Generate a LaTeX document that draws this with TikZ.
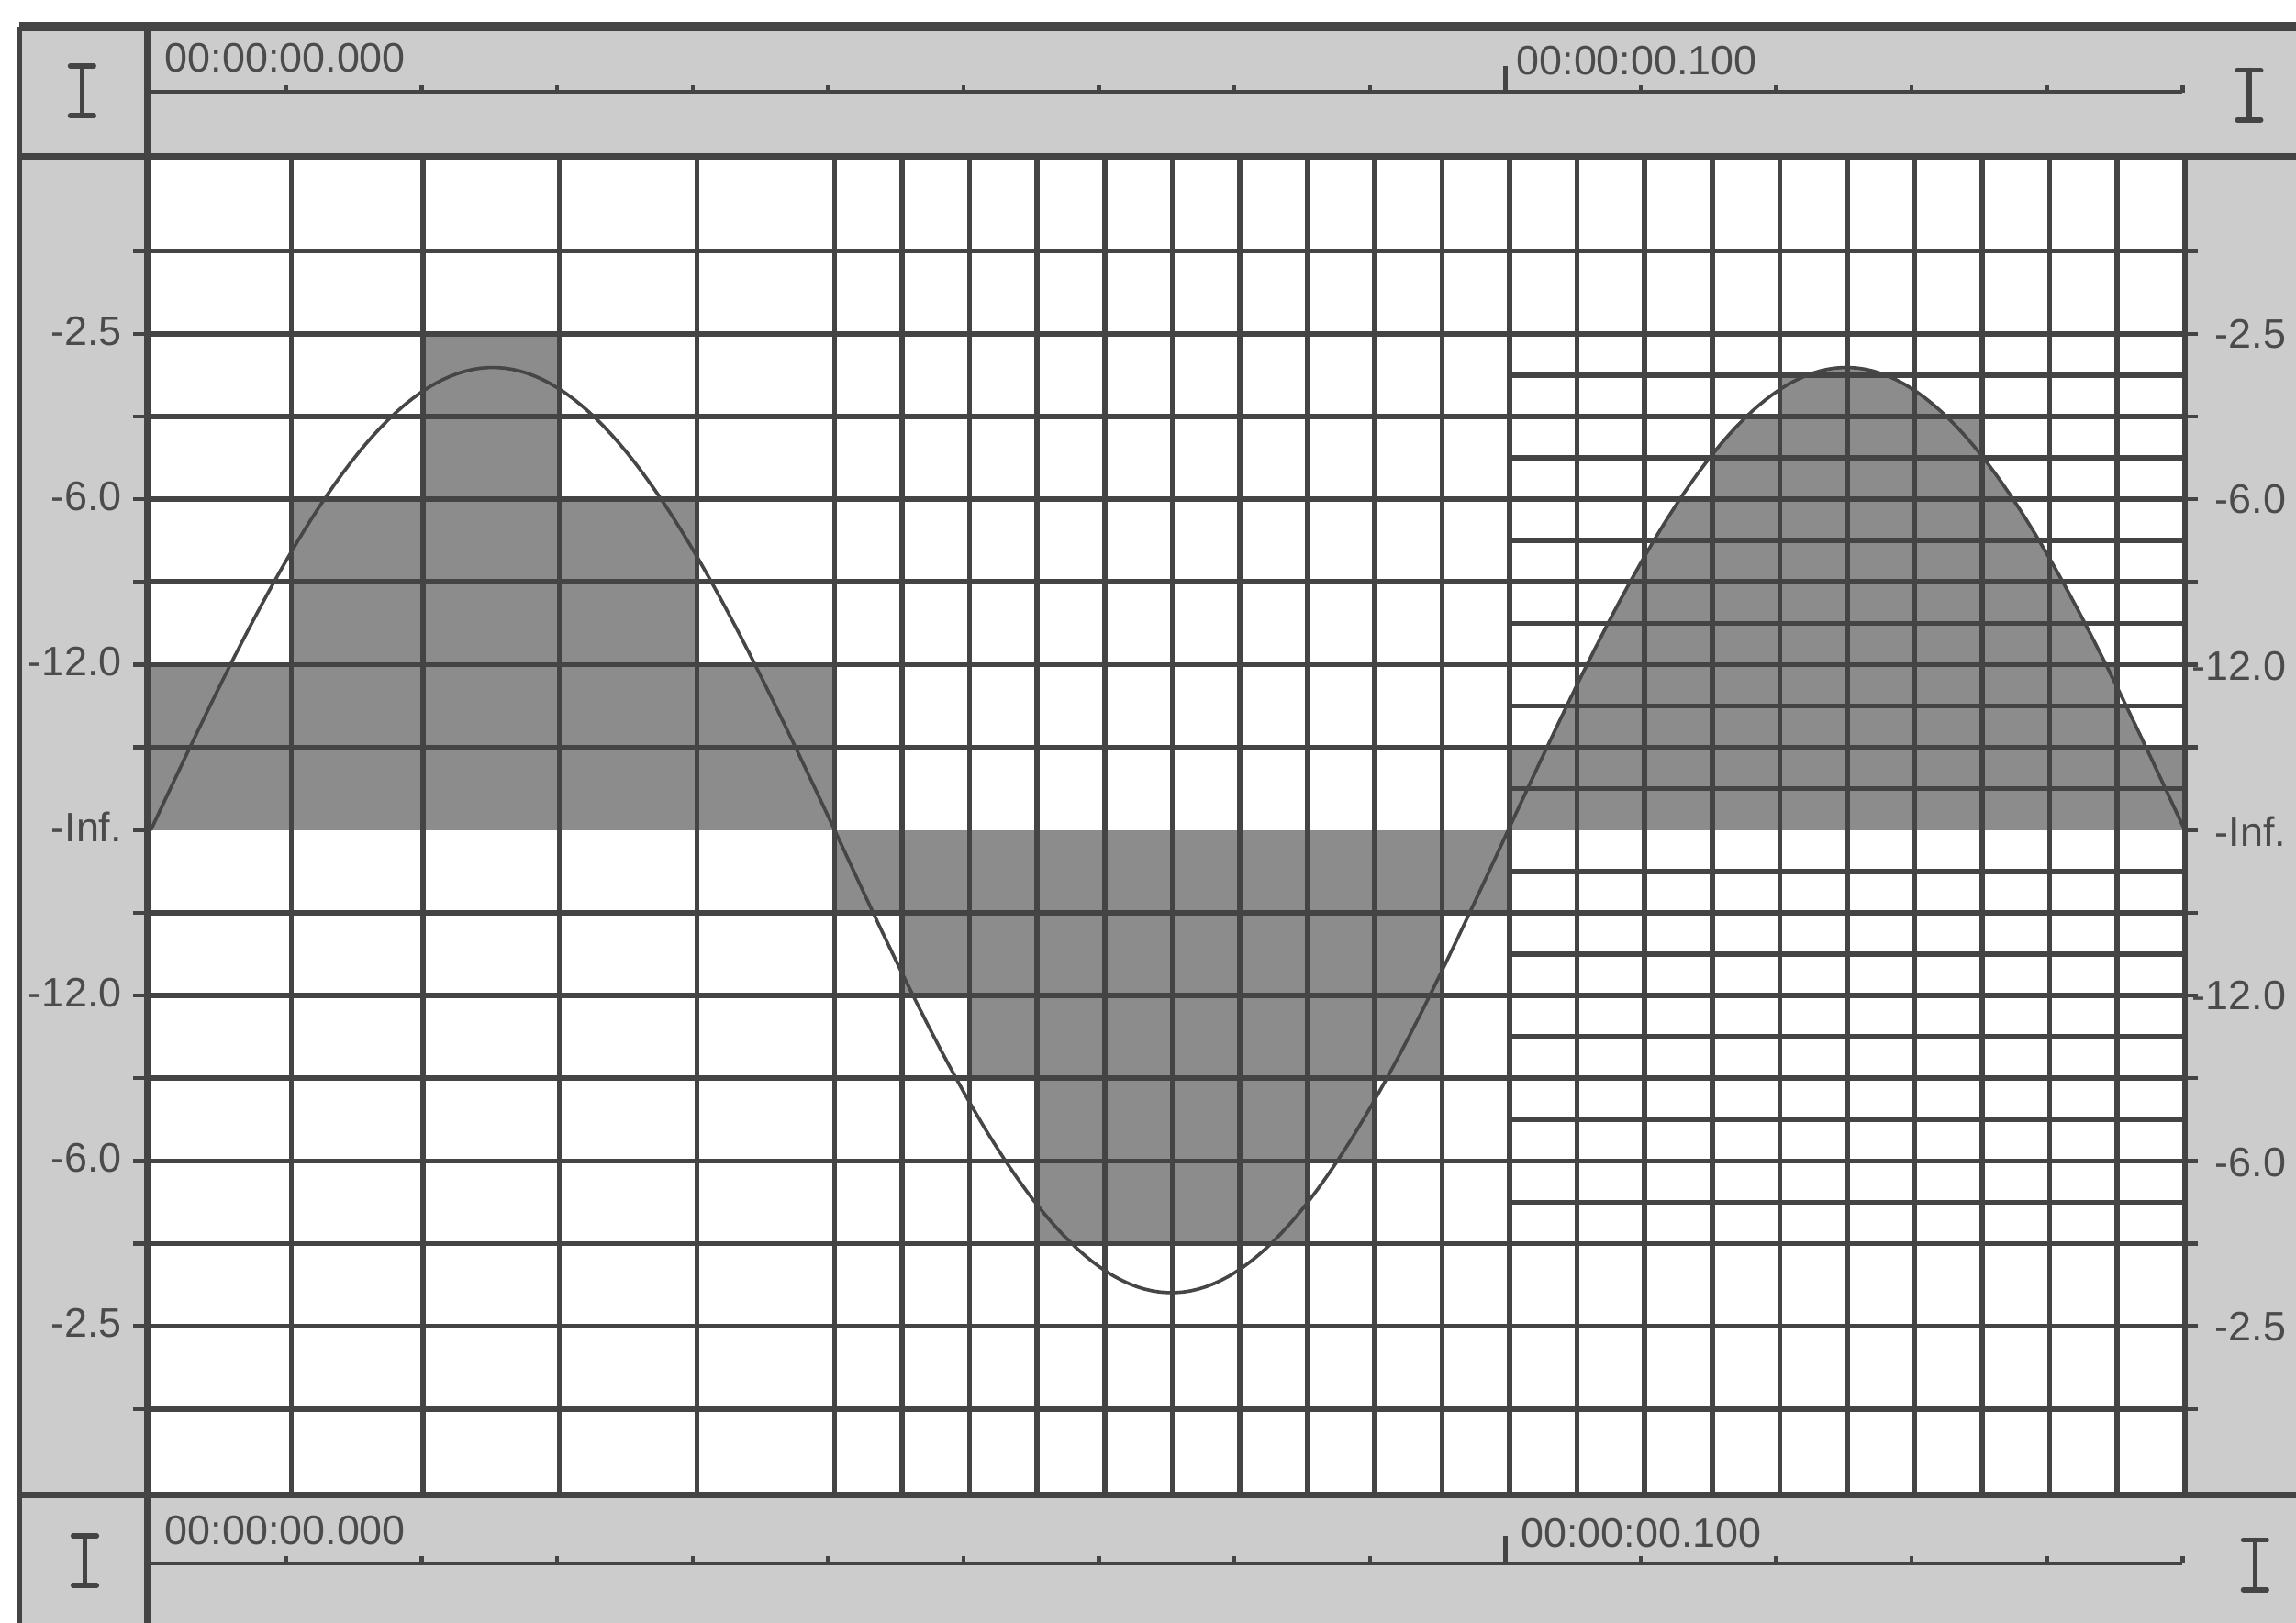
\documentclass[tikz,border=0pt]{standalone}
\usepackage{fontspec}
\setmainfont{Liberation Sans}
\definecolor{panelgray}{RGB}{204,204,204}
\definecolor{fillgray}{RGB}{140,140,140}
\definecolor{linegray}{RGB}{68,68,68}
\definecolor{wavegray}{RGB}{70,70,70}
\definecolor{txtgray}{RGB}{75,75,75}
\begin{document}
\begin{tikzpicture}[x=0.01cm,y=-0.01cm,
  panel/.style={fill=panelgray},
  lobe/.style={fill=fillgray},
  gridline/.style={draw=linegray,line width=1pt},
  fineline/.style={draw=linegray,line width=1pt},
  frame/.style={draw=linegray,line width=1.8pt},
  edgeline/.style={draw=linegray,line width=1pt},
  axisline/.style={draw=linegray,line width=1.4pt},
  border/.style={draw=linegray,line width=1.2pt},
  ruler/.style={draw=linegray,line width=0.8pt},
  axtick/.style={draw=linegray,line width=0.8pt},
  wave/.style={draw=wavegray,line width=0.65pt},
  ibeam/.style={draw=linegray,line width=1pt,line cap=round},
  lbl/.style={font=\fontsize{8}{9}\selectfont,text=txtgray,inner sep=0pt}]
\useasboundingbox (0,0) rectangle (1568,1108.6);
% gray panels and white plot area
\fill[panel] (13,18) rectangle (1568,1108.6);
\fill[white] (101,107) rectangle (1492,1021);
% ---- lobe 1 (coarse) ----
\fill[lobe] (103,454) rectangle (570,567);
\fill[lobe] (199,341) rectangle (476,454);
\fill[lobe] (289,228) rectangle (382,341);
% ---- lobe 2 (medium) ----
\fill[lobe] (570,567) rectangle (1031,623.5);
\fill[lobe] (616.1,623.5) rectangle (984.9,680);
\fill[lobe] (662.2,680) rectangle (984.9,736.5);
\fill[lobe] (708.3,736.5) rectangle (938.8,793);
\fill[lobe] (708.3,793) rectangle (892.7,849.5);
% ---- lobe 3 (fine) ----
\fill[lobe] (1031,567) -- (1031,510.5) -- (1056.4,510.5)
  -- plot[domain=1056.4:1147.2,samples=30] (\x,{567-316*sin((\x-1030)/462*180)})
  -- (1169.3,341) -- (1169.3,312.75) -- (1167.5,312.75)
  -- plot[domain=1167.5:1192.7,samples=12] (\x,{567-316*sin((\x-1030)/462*180)})
  -- (1215.4,284.5) -- (1215.4,256.25) -- (1234.2,256.25)
  -- plot[domain=1234.2:1329.3,samples=40] (\x,{567-316*sin((\x-1030)/462*180)})
  -- (1353.7,284.5) -- (1353.7,312.75) -- (1354.5,312.75)
  -- plot[domain=1354.5:1438.2,samples=30] (\x,{567-316*sin((\x-1030)/462*180)})
  -- (1445.9,454) -- (1445.9,482.25) -- (1452.1,482.25)
  -- plot[domain=1452.1:1465.6,samples=8] (\x,{567-316*sin((\x-1030)/462*180)})
  -- (1492,510.5) -- (1492,567) -- cycle;
% ---- grid ----
\foreach \x in {199,289,382,476,570}
  \draw[gridline] (\x,107) -- (\x,1021);
\foreach \k in {1,...,19}
  \draw[gridline] ({570+46.1*\k},107) -- ({570+46.1*\k},1021);
\foreach \k in {1,...,7}{
  \draw[gridline] (103,{567-56.5*\k}) -- (1492,{567-56.5*\k});
  \draw[gridline] (103,{567+56.5*\k}) -- (1492,{567+56.5*\k});
}
\foreach \k in {1,3,5,7,9,11}
  \draw[fineline] (1031,{567-28.25*\k}) -- (1492,{567-28.25*\k});
\foreach \k in {1,3,5,7,9}
  \draw[fineline] (1031,{567+28.25*\k}) -- (1492,{567+28.25*\k});
% ---- sine wave ----
\draw[wave] plot[domain=103:570,samples=90] (\x,{567-316*sin((\x-103)/467*180)});
\draw[wave] plot[domain=570:1030,samples=90] (\x,{567+316*sin((\x-570)/460*180)});
\draw[wave] plot[domain=1030:1492,samples=90] (\x,{567-316*sin((\x-1030)/462*180)});
% ---- frame lines ----
\draw[frame] (13,18) -- (1568,18);
\draw[edgeline] (13,18) -- (13,1108.6);
\draw[axisline] (101,18) -- (101,1108.6);
\draw[border] (13,107) -- (1568,107);
\draw[border] (13,1021) -- (1568,1021);
\draw[edgeline] (1492,107) -- (1492,1021);
% ---- axis ticks ----
\foreach \k in {-7,...,7}{
  \draw[axtick] (91,{567+56.5*\k}) -- (101,{567+56.5*\k});
  \draw[axtick] (1492,{567+56.5*\k}) -- (1501,{567+56.5*\k});
}
% ---- axis labels ----
\node[lbl,anchor=east] (la1) at (84,226) {-2.5};
\node[lbl,anchor=east] (la2) at (84,339) {-6.0};
\node[lbl,anchor=east] (la3) at (84,452) {-12.0};
\node[lbl,anchor=east] (la4) at (84,565) {-Inf.};
\node[lbl,anchor=east] (la5) at (84,678) {-12.0};
\node[lbl,anchor=east] (la6) at (84,791) {-6.0};
\node[lbl,anchor=east] (la7) at (84,904) {-2.5};
\node[lbl,anchor=east] (ra1) at (1562,228) {-2.5};
\node[lbl,anchor=east] (ra2) at (1562,341) {-6.0};
\node[lbl,anchor=east] (ra3) at (1562,455) {-12.0};
\node[lbl,anchor=east] (ra4) at (1562,568) {-Inf.};
\node[lbl,anchor=east] (ra5) at (1562,680) {-12.0};
\node[lbl,anchor=east] (ra6) at (1562,794) {-6.0};
\node[lbl,anchor=east] (ra7) at (1562,906) {-2.5};
% ---- top ruler ----
\draw[ruler] (101,63) -- (1490,63);
\foreach \k in {1,...,15}
  \draw[ruler] ({103+92.5*\k},63) -- ({103+92.5*\k},58);
\draw[ruler] (1028,63) -- (1028,45);
\node[lbl,anchor=base west] (tt0) at (112,49) {00:00:00.000};
\node[lbl,anchor=base west] (tt1) at (1035,51) {00:00:00.100};
% ---- bottom ruler ----
\draw[ruler] (101,1068) -- (1490,1068);
\foreach \k in {1,...,15}
  \draw[ruler] ({103+92.5*\k},1068) -- ({103+92.5*\k},1063);
\draw[ruler] (1028,1068) -- (1028,1049);
\node[lbl,anchor=base west] (bt0) at (112,1055) {00:00:00.000};
\node[lbl,anchor=base west] (bt1) at (1038,1057) {00:00:00.100};
% ---- I-beam markers ----
\draw[ibeam,shift={(56,62)}] (-8,-17) -- (8,-17) (0,-17) -- (0,17) (-8,17) -- (8,17);
\draw[ibeam,shift={(1536,65)}] (-8,-17) -- (8,-17) (0,-17) -- (0,17) (-8,17) -- (8,17);
\draw[ibeam,shift={(58,1066)}] (-8,-17) -- (8,-17) (0,-17) -- (0,17) (-8,17) -- (8,17);
\draw[ibeam,shift={(1540,1069)}] (-8,-17) -- (8,-17) (0,-17) -- (0,17) (-8,17) -- (8,17);
\end{tikzpicture}
\end{document}
